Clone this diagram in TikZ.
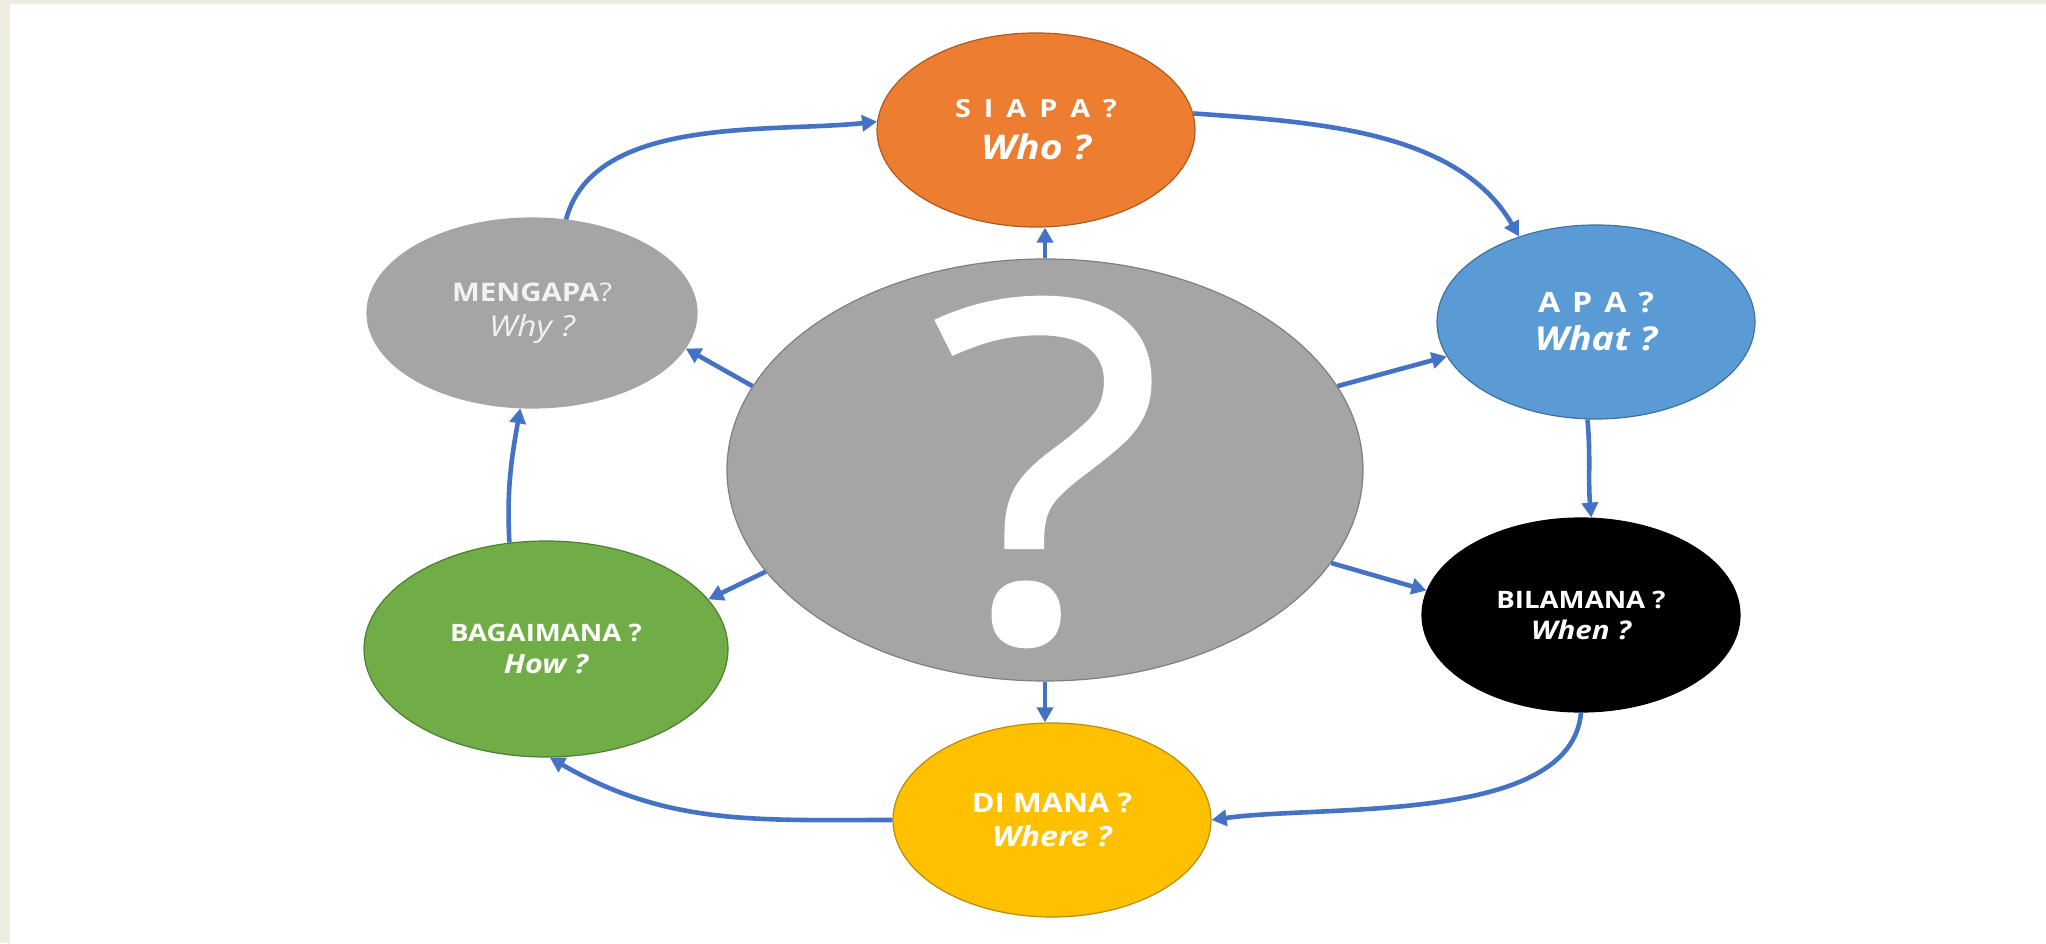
\documentclass[tikz,border=0pt]{standalone}
\usepackage{fontspec}
\setmainfont{Open Sans}
\newfontfamily\labfont[FakeStretch=1.15]{Open Sans}
\newfontfamily\qfont[FakeStretch=1.15,FakeBold=1.2]{Open Sans}
\usetikzlibrary{shapes.geometric,arrows.meta}
\definecolor{bgbeige}{HTML}{EEEBE3}
\definecolor{arrowblue}{HTML}{4472C4}
\definecolor{corange}{HTML}{ED7D31}
\definecolor{corangeD}{HTML}{AE5A21}
\definecolor{cblue}{HTML}{5B9BD5}
\definecolor{cblueD}{HTML}{41719C}
\definecolor{cyellow}{HTML}{FFC000}
\definecolor{cyellowD}{HTML}{BC8C00}
\definecolor{cgreen}{HTML}{70AD47}
\definecolor{cgreenD}{HTML}{507E32}
\definecolor{cgrey}{HTML}{A5A5A5}
\definecolor{cgreyD}{HTML}{7F7F7F}
\definecolor{ctextgrey}{HTML}{F2F2F2}
\begin{document}
\begin{tikzpicture}[x=1pt,y=1pt,
  bubble/.style={ellipse, inner sep=0pt, line width=1.2pt, text=white, align=center},
  small/.style={bubble, minimum width=318pt, minimum height=194pt},
  conn/.style={draw=arrowblue, line width=4.6pt, -{Triangle[length=15pt,width=16pt]}}
]
\fill[bgbeige] (0,0) rectangle (2046,943);
\fill[white] (10,0) rectangle (2046,939);
\useasboundingbox (0,0) rectangle (2046,943);

\node[bubble, fill=cgrey, draw=cgreyD, minimum width=636pt, minimum height=422pt] (c) at (1045,473) {};
\node[text=white, inner sep=0pt, font=\qfont\fontsize{470}{470}\selectfont] (qm) at (1047,471) {?};

\node[small, fill=corange, draw=corangeD, font=\labfont\fontsize{25}{42}\selectfont] (siapa) at (1036,813)
  {\bfseries S\hspace{13pt}I\hspace{13pt}A\hspace{13pt}P\hspace{13pt}A\hspace{13pt}?\\
   {\fontsize{34}{42}\selectfont\bfseries\itshape Who ?}};
\node[small, fill=cblue, draw=cblueD, font=\labfont\fontsize{28}{38}\selectfont] (apa) at (1596,621)
  {\bfseries A\hspace{12pt}P\hspace{12pt}A\hspace{12pt}?\\
   {\fontsize{33}{38}\selectfont\bfseries\itshape What ?}};
\node[small, fill=black, draw=black, font=\labfont\fontsize{24}{31}\selectfont] (bil) at (1581,328)
  {\bfseries BILAMANA ?\\
   {\fontsize{25.7}{31}\selectfont\bfseries\itshape When ?}};
\node[small, fill=cyellow, draw=cyellowD, font=\labfont\fontsize{26.8}{34}\selectfont] (dimana) at (1052,123)
  {\bfseries DI MANA ?\\
   {\fontsize{27.8}{34}\selectfont\bfseries\itshape Where ?}};
\node[bubble, fill=cgreen, draw=cgreenD, minimum width=364pt, minimum height=216pt, font=\labfont\fontsize{24}{32}\selectfont] (baga) at (546,294)
  {\bfseries BAGAIMANA ?\\
   {\fontsize{26.4}{32}\selectfont\bfseries\itshape How ?}};
\node[bubble, fill=cgrey, draw=cgrey, minimum width=330pt, minimum height=190pt, text=ctextgrey, font=\labfont\fontsize{25.6}{35}\selectfont] (meng) at (532,630)
  {\textbf{MENGAPA}?\\
   {\fontsize{29}{35}\selectfont\itshape Why ?}};

\draw[conn] (c.north) -- (c.north |- siapa.south);
\draw[conn] (c.16) -- (apa.193);
\draw[conn] (c.-18) -- (bil.171);
\draw[conn] (c.south) -- (c.south |- dimana.north);
\draw[conn] (c.200) -- (baga.17);
\draw[conn] (c.164) -- (meng.-13);
\draw[conn] (siapa.6) to[out=-4,in=120,looseness=0.9] (apa.132);
\draw[conn] (apa.-95) to[out=-85,in=95] (bil.84);
\draw[conn] (bil.south) to[out=-95,in=8,looseness=0.75] (dimana.east);
\draw[conn] (dimana.west) to[out=180,in=-30] (baga.-88);
\draw[conn] (baga.109) to[out=93,in=-100] (meng.-97);
\draw[conn] (meng.70) to[out=75,in=186,looseness=0.85] (siapa.177);
\end{tikzpicture}
\end{document}
